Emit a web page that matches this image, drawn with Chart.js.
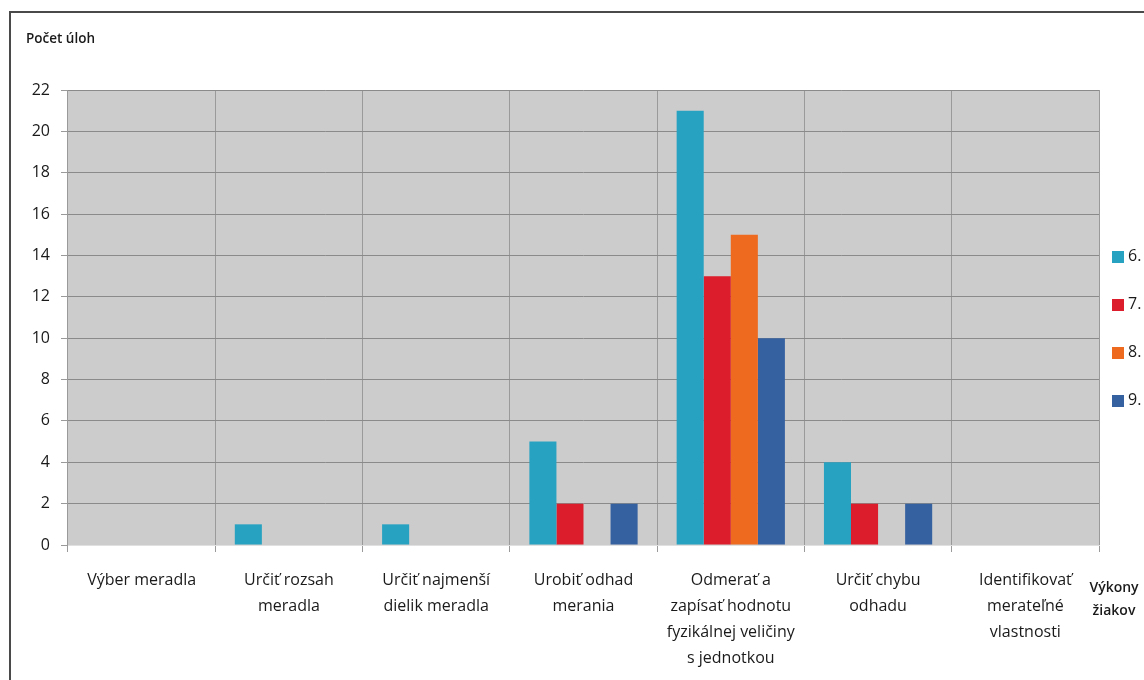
<!DOCTYPE html>
<html lang="sk">
<head>
<meta charset="utf-8">
<title>Počet úloh</title>
<script src="https://cdn.jsdelivr.net/npm/chart.js@4/dist/chart.umd.min.js"></script>
<style>
  html, body { margin: 0; padding: 0; background: #ffffff; }
  canvas { display: block; }
</style>
</head>
<body>
<canvas id="c" width="1144" height="680"></canvas>
<script>
// Categories of tasks (multi-line labels)
const categories = [
  ['Výber meradla'],
  ['Určiť rozsah', 'meradla'],
  ['Určiť najmenší', 'dielik meradla'],
  ['Urobiť odhad', 'merania'],
  ['Odmerať a', 'zapísať hodnotu', 'fyzikálnej veličiny', 's jednotkou'],
  ['Určiť chybu', 'odhadu'],
  ['Identifikovať', 'merateľné', 'vlastnosti']
];

// Number of tasks per grade
const grade6 = [0, 1, 1, 5, 21, 4, 0];
const grade7 = [0, 0, 0, 2, 13, 2, 0];
const grade8 = [0, 0, 0, 0, 15, 0, 0];
const grade9 = [0, 0, 0, 2, 10, 2, 0];

const seriesLabels = ['6.', '7.', '8.', '9.'];
const seriesColors = ['#28a2c1', '#dc1d2b', '#ee6a1f', '#3661a1'];

const yTitle = 'Počet úloh';
const xTitle = ['Výkony', 'žiakov'];

const FONT = '"Open Sans", "DejaVu Sans", sans-serif';

// Grey plot background, outer frame, axis captions and the legend
const decorations = {
  id: 'decorations',
  beforeDraw(chart) {
    const { ctx, chartArea: a } = chart;
    ctx.save();
    ctx.fillStyle = '#cccccc';
    ctx.fillRect(a.left, a.top, a.right - a.left, a.bottom - a.top);
    ctx.restore();
  },
  afterDraw(chart) {
    const { ctx, chartArea: a } = chart;
    ctx.save();
    // frame
    ctx.strokeStyle = '#4a4a4a';
    ctx.lineWidth = 2;
    ctx.beginPath();
    ctx.moveTo(10, 680);
    ctx.lineTo(10, 12);
    ctx.lineTo(1144, 12);
    ctx.stroke();

    // y caption
    ctx.fillStyle = '#1a1a1a';
    ctx.font = '600 13.5px ' + FONT;
    ctx.textAlign = 'left';
    ctx.textBaseline = 'middle';
    ctx.fillText(yTitle, 26, 39);

    // x caption
    ctx.textAlign = 'center';
    ctx.font = '600 14px ' + FONT;
    ctx.fillText(xTitle[0], a.right + 15, 588);
    ctx.fillText(xTitle[1], a.right + 15, 611);

    // legend
    ctx.font = '16px ' + FONT;
    ctx.textAlign = 'left';
    chart.data.datasets.forEach((ds, i) => {
      const y = 257 + i * 48;
      ctx.fillStyle = ds.backgroundColor;
      ctx.fillRect(a.right + 13, y - 6, 12, 12);
      ctx.fillStyle = '#1a1a1a';
      ctx.fillText(ds.label, a.right + 29, y - 1);
    });
    ctx.restore();
  }
};

const datasets = [grade6, grade7, grade8, grade9].map((vals, i) => ({
  label: seriesLabels[i],
  data: vals,
  backgroundColor: seriesColors[i],
  borderWidth: 0,
  categoryPercentage: 0.735,
  barPercentage: 1.0
}));

new Chart(document.getElementById('c'), {
  type: 'bar',
  data: { labels: categories, datasets },
  plugins: [decorations],
  options: {
    responsive: false,
    animation: false,
    layout: { padding: { left: 0, right: 45, top: 90, bottom: 0 } },
    plugins: {
      legend: { display: false },
      tooltip: { enabled: false }
    },
    scales: {
      x: {
        afterFit(scale) { scale.height = 135; },
        grid: {
          offset: true,
          color: '#9a9a9a',
          lineWidth: 1,
          drawTicks: true,
          tickLength: 7,
          tickColor: '#9a9a9a'
        },
        border: { color: '#e0e0e0', width: 1 },
        ticks: {
          color: '#1a1a1a',
          font: { family: FONT, size: 16, lineHeight: 1.63 },
          padding: 15,
          maxRotation: 0,
          autoSkip: false
        }
      },
      y: {
        min: 0,
        max: 22,
        afterFit(scale) { scale.width = 68; },
        grid: {
          color: '#8a8a8a',
          lineWidth: 1,
          drawTicks: true,
          tickLength: 7,
          tickColor: '#9a9a9a'
        },
        border: { display: false },
        ticks: {
          stepSize: 2,
          color: '#1a1a1a',
          font: { family: FONT, size: 16 },
          padding: 11
        }
      }
    }
  }
});
</script>
</body>
</html>
